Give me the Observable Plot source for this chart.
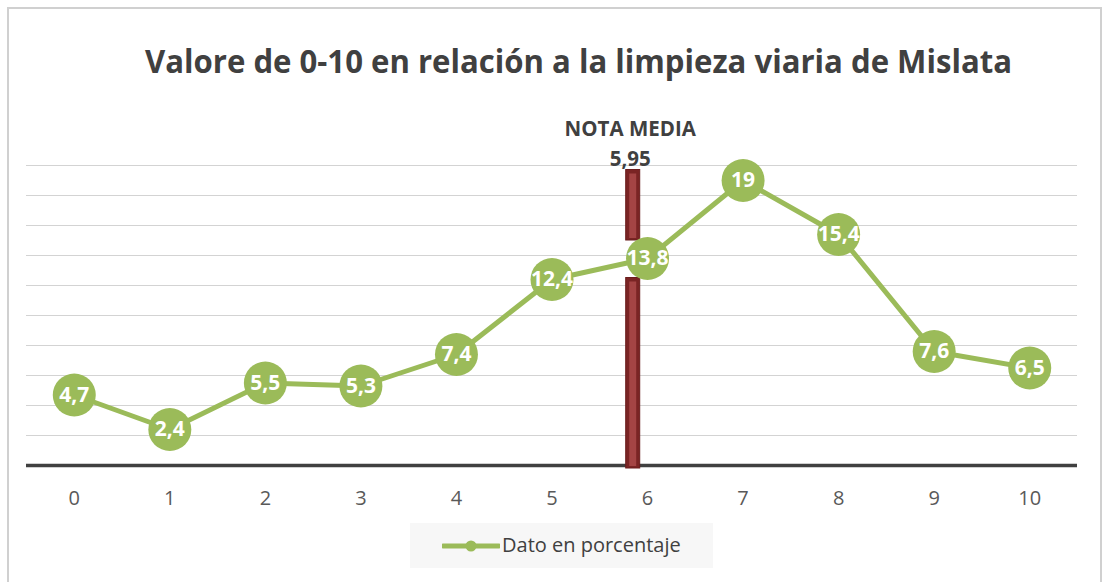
<!DOCTYPE html>
<html>
<head>
<meta charset="utf-8">
<script src="https://cdn.jsdelivr.net/npm/d3@7"></script>
<script src="https://cdn.jsdelivr.net/npm/@observablehq/plot@0.6"></script>
<style>
  html, body { margin: 0; padding: 0; background: #fff; }
  #wrap { position: relative; width: 1107px; height: 582px; overflow: hidden; font-family: "Open Sans", sans-serif; }
  #border { position: absolute; left: 7px; top: 7px; width: 1095px; height: 600px; border: 2px solid #d0d0d0; box-sizing: border-box; }
  #chart { position: absolute; left: 0; top: 0; }
  #title { position: absolute; left: 0; top: 0; }
  #legend { position: absolute; left: 410px; top: 523px; width: 303px; height: 45px; background: #f7f7f7; }
  #legend span { position: absolute; left: 92px; top: 8px; font-size: 20px; color: #404040; white-space: nowrap; }
  #legend svg { position: absolute; left: 32px; top: 13px; }
</style>
</head>
<body>
<div id="wrap">
  <div id="border"></div>
  <div id="chart"></div>
  <svg id="title" width="1107" height="100">
    <text x="578.5" y="73" text-anchor="middle" font-family="Open Sans" font-weight="bold" font-size="33" fill="#404040" textLength="867" lengthAdjust="spacingAndGlyphs">Valore de 0-10 en relación a la limpieza viaria de Mislata</text>
  </svg>
  <div id="legend">
    <svg width="58" height="20"><line x1="1" y1="10" x2="57" y2="10" stroke="#9BBB59" stroke-width="5" stroke-linecap="round"/><circle cx="29" cy="10" r="5.5" fill="#9BBB59"/></svg>
    <span>Dato en porcentaje</span>
  </div>
</div>
<script>
// Data
const categories = [0, 1, 2, 3, 4, 5, 6, 7, 8, 9, 10];
const values = [4.7, 2.4, 5.5, 5.3, 7.4, 12.4, 13.8, 19, 15.4, 7.6, 6.5];
const gridTicks = [2, 4, 6, 8, 10, 12, 14, 16, 18, 20];
const notaMediaLabel = "5,95";
const notaMediaX = 5.85;           // where the marker bar sits on the category axis
const notaMediaSegments = [[-0.2, 12.5], [15.0, 19.7]]; // bar pieces (gap around 13,8 label)

const data = categories.map((c, i) => ({x: c, y: values[i]}));
const segs = notaMediaSegments.map(([a, b]) => ({x: notaMediaX, y1: a, y2: b}));
const fmt = v => String(v).replace(".", ",");
const green = "#9BBB59";

const plot = Plot.plot({
  width: 1107,
  height: 582,
  marginTop: 165,
  marginBottom: 117,
  marginLeft: 26,
  marginRight: 30,
  style: {fontFamily: "Open Sans", color: "#595959", background: "transparent"},
  x: {domain: [-0.5, 10.5]},
  y: {domain: [0, 20]},
  marks: [
    Plot.ruleY(gridTicks, {stroke: "#d3d3d3", strokeWidth: 1.2}),
    Plot.ruleY([0], {stroke: "#404040", strokeWidth: 3.5}),
    Plot.axisX(categories, {tickSize: 0, tickPadding: 25, fontSize: 20, label: null}),
    Plot.axisY({ticks: [], label: null, tickSize: 0}),
    Plot.rect(segs, {x1: "x", x2: "x", y1: "y1", y2: "y2", insetLeft: -7, insetRight: -7, fill: "#7a2424", stroke: "#6a1c1c", strokeWidth: 1}),
    Plot.rect(segs, {x1: "x", x2: "x", y1: "y1", y2: "y2", insetLeft: -3.5, insetRight: -3.5, insetTop: 4, insetBottom: 2, fill: "#a44444"}),
    Plot.text([notaMediaX], {x: d => d, frameAnchor: "top", dx: -3, dy: -30, lineAnchor: "bottom", text: () => "NOTA MEDIA", fontSize: 20.5, fontWeight: "bold", fill: "#404040"}),
    Plot.text([notaMediaX], {x: d => d, frameAnchor: "top", dx: -3, dy: 0, lineAnchor: "bottom", text: () => notaMediaLabel, fontSize: 20.5, fontWeight: "bold", fill: "#404040"}),
    Plot.line(data, {x: "x", y: "y", stroke: green, strokeWidth: 5}),
    Plot.dot(data, {x: "x", y: "y", r: 21.5, fill: green}),
    Plot.text(data, {x: "x", y: "y", text: d => fmt(d.y), fill: "white", fontWeight: "bold", fontSize: 21})
  ]
});
document.getElementById("chart").appendChild(plot);
</script>
</body>
</html>
